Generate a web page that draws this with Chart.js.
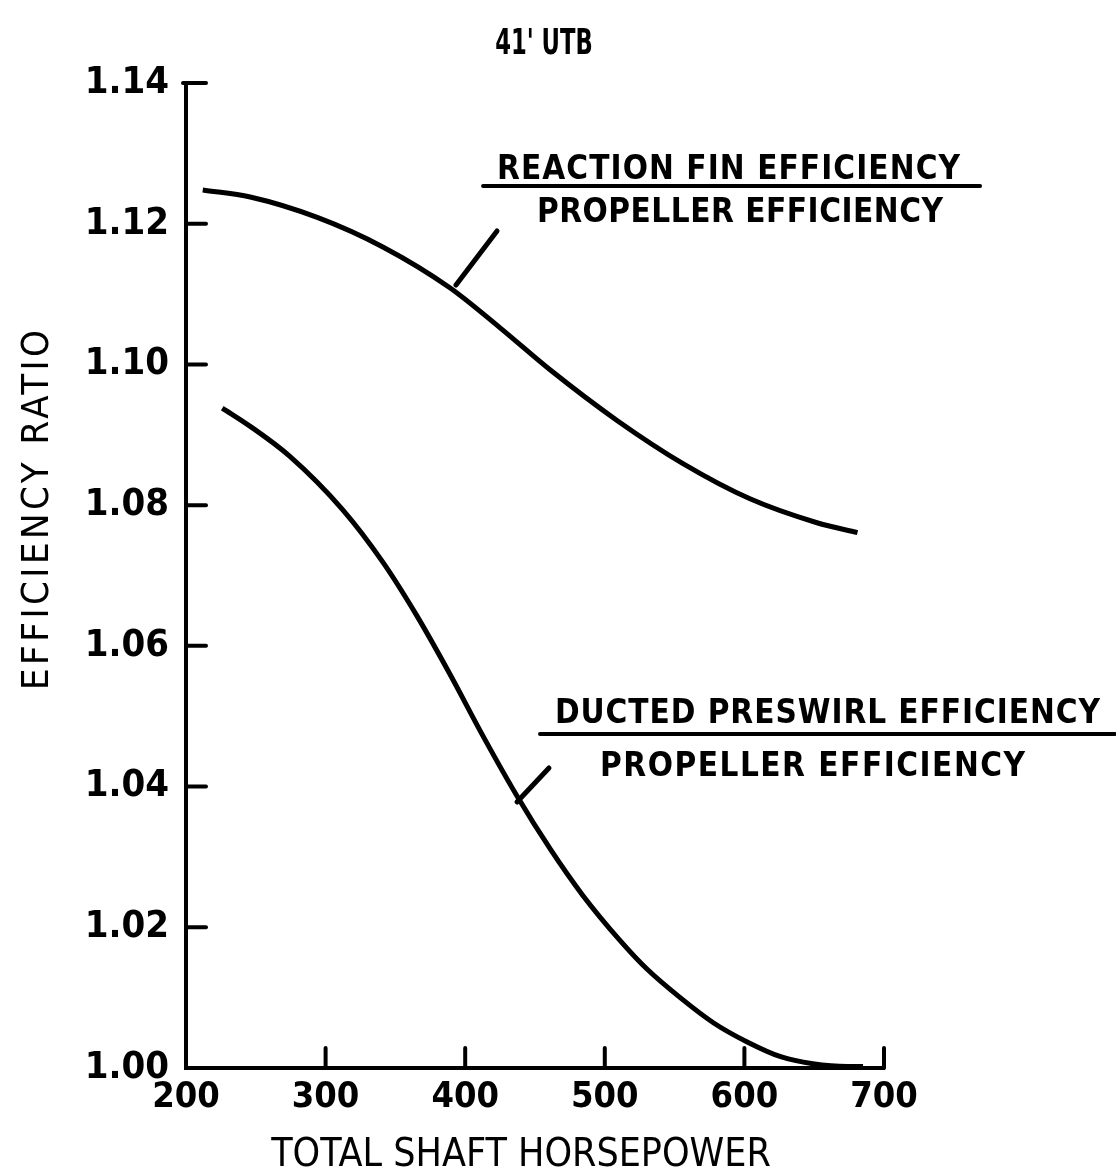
<!DOCTYPE html>
<html>
<head>
<meta charset="utf-8">
<title>41' UTB - Efficiency ratio vs total shaft horsepower</title>
<script src="https://cdn.jsdelivr.net/npm/chart.js@4.4.1/dist/chart.umd.min.js"></script>
<style>
  html, body { margin: 0; padding: 0; background: #fff; }
  #wrap { width: 1116px; height: 1172px; }
</style>
</head>
<body>
<div id="wrap"><canvas id="chart" width="1116" height="1172"></canvas></div>
<script>
// axis ticks
const xTicks = [200, 300, 400, 500, 600, 700];
const yTicks = [1.00, 1.02, 1.04, 1.06, 1.08, 1.10, 1.12, 1.14];

// reaction fin / propeller efficiency
const finHp    = [212, 246, 294, 341, 389, 425, 461, 509, 556, 604, 652, 681];
const finRatio = [1.1248, 1.1238, 1.1209, 1.1167, 1.1109, 1.1052, 1.0992, 1.0920, 1.0859, 1.0809, 1.0775, 1.0761];

// ducted preswirl / propeller efficiency
const ductHp    = [226, 246, 274, 312, 341, 365, 389, 413, 437, 461, 484, 511, 530, 554, 578, 602, 626, 649, 674, 685];
const ductRatio = [1.0938, 1.0912, 1.0870, 1.0794, 1.0719, 1.0644, 1.0560, 1.0471, 1.0387, 1.0311, 1.0246, 1.0181, 1.0141, 1.0100, 1.0064, 1.0037, 1.0016, 1.0006, 1.0002, 1.0002];

const INK = '#000';
const FONT = '"DejaVu Sans Condensed", "DejaVu Sans", sans-serif';

// curve labels, anchored in data units (hp, ratio)
const notes = [
    {
        top: 'REACTION FIN EFFICIENCY', topAt: [588.6, 1.12636], topWidth: 463,
        bottom: 'PROPELLER EFFICIENCY', bottomAt: [596.8, 1.12023], bottomWidth: 406,
        bar: [[412.8, 1.12536], [768.8, 1.12536]],
        leader: [[393.4, 1.11129], [422.8, 1.11897]]
    },
    {
        top: 'DUCTED PRESWIRL EFFICIENCY', topAt: [659.5, 1.04904], topWidth: 545,
        bottom: 'PROPELLER EFFICIENCY', bottomAt: [648.8, 1.04150], bottomWidth: 425,
        bar: [[453.6, 1.04747], [865.5, 1.04747]],
        leader: [[437.1, 1.03781], [460.0, 1.04264]]
    }
];

function toPoints(xs, ys) {
    return xs.map((x, i) => ({ x: x, y: ys[i] }));
}

// spread the letters so the text spans the given width
function fitText(ctx, text, cx, y, width) {
    ctx.letterSpacing = '0px';
    const w = ctx.measureText(text).width;
    const sp = (width - w) / (text.length - 1);
    ctx.letterSpacing = sp + 'px';
    ctx.textAlign = 'left';
    ctx.fillText(text, cx - width / 2, y);
    ctx.letterSpacing = '0px';
}

// squeeze the text horizontally (typewriter-like condensed look)
function squeezeText(ctx, text, cx, y, sx) {
    ctx.save();
    ctx.translate(cx, y);
    ctx.scale(sx, 1);
    ctx.textAlign = 'center';
    ctx.fillText(text, 0, 0);
    ctx.restore();
}

const decorPlugin = {
    id: 'decor',
    afterDraw(chart) {
        const ctx = chart.ctx;
        const xs = chart.scales.x;
        const ys = chart.scales.y;
        const area = chart.chartArea;
        ctx.save();
        ctx.strokeStyle = INK;
        ctx.fillStyle = INK;
        ctx.lineCap = 'round';

        // inward tick marks
        ctx.lineWidth = 4;
        xTicks.slice(1).forEach(v => {
            const px = xs.getPixelForValue(v);
            ctx.beginPath();
            ctx.moveTo(px, area.bottom);
            ctx.lineTo(px, area.bottom - 20);
            ctx.stroke();
        });
        yTicks.slice(1).forEach(v => {
            const py = ys.getPixelForValue(v);
            ctx.beginPath();
            ctx.moveTo(area.left - (v === 1.14 ? 3 : 0), py);
            ctx.lineTo(area.left + 20, py);
            ctx.stroke();
        });

        // curve labels
        ctx.font = 'bold 33px ' + FONT;
        ctx.textBaseline = 'alphabetic';
        notes.forEach(n => {
            fitText(ctx, n.top, xs.getPixelForValue(n.topAt[0]), ys.getPixelForValue(n.topAt[1]), n.topWidth);
            fitText(ctx, n.bottom, xs.getPixelForValue(n.bottomAt[0]), ys.getPixelForValue(n.bottomAt[1]), n.bottomWidth);
            ctx.lineWidth = 4;
            ctx.beginPath();
            ctx.moveTo(xs.getPixelForValue(n.bar[0][0]), ys.getPixelForValue(n.bar[0][1]));
            ctx.lineTo(xs.getPixelForValue(n.bar[1][0]), ys.getPixelForValue(n.bar[1][1]));
            ctx.stroke();
            ctx.lineWidth = 5;
            ctx.beginPath();
            ctx.moveTo(xs.getPixelForValue(n.leader[0][0]), ys.getPixelForValue(n.leader[0][1]));
            ctx.lineTo(xs.getPixelForValue(n.leader[1][0]), ys.getPixelForValue(n.leader[1][1]));
            ctx.stroke();
        });

        // chart title
        ctx.font = 'bold 36px ' + FONT;
        squeezeText(ctx, "41' UTB", 544, 54, 0.7);

        // x axis title
        ctx.font = '39px ' + FONT;
        ctx.textAlign = 'center';
        ctx.fillText('TOTAL SHAFT HORSEPOWER', 521, 1166);

        // y axis title
        ctx.font = '38px ' + FONT;
        ctx.translate(48, 510);
        ctx.rotate(-Math.PI / 2);
        fitText(ctx, 'EFFICIENCY RATIO', 0, 0, 360);
        ctx.restore();
    }
};

Chart.defaults.font.family = FONT;
Chart.defaults.color = INK;

new Chart(document.getElementById('chart'), {
    type: 'scatter',
    data: {
        datasets: [
            {
                label: 'Reaction fin efficiency / propeller efficiency',
                data: toPoints(finHp, finRatio),
                showLine: true,
                borderColor: INK,
                borderWidth: 5,
                pointRadius: 0,
                cubicInterpolationMode: 'monotone'
            },
            {
                label: 'Ducted preswirl efficiency / propeller efficiency',
                data: toPoints(ductHp, ductRatio),
                showLine: true,
                borderColor: INK,
                borderWidth: 5,
                pointRadius: 0,
                cubicInterpolationMode: 'monotone'
            }
        ]
    },
    options: {
        responsive: false,
        animation: false,
        devicePixelRatio: 1,
        layout: { padding: { left: 0, right: 232, top: 83, bottom: 0 } },
        plugins: {
            legend: { display: false },
            tooltip: { enabled: false },
            title: { display: false }
        },
        scales: {
            x: {
                type: 'linear',
                min: 200,
                max: 700,
                afterFit: s => { s.height = 104; },
                afterBuildTicks: s => { s.ticks = xTicks.map(v => ({ value: v })); },
                grid: { display: true, drawOnChartArea: false, drawTicks: false },
                border: { display: true, color: INK, width: 4 },
                ticks: {
                    padding: 8,
                    color: INK,
                    font: { size: 36, weight: 'bold' },
                    callback: v => String(v)
                }
            },
            y: {
                type: 'linear',
                min: 1.00,
                max: 1.14,
                afterFit: s => { s.width = 186; },
                afterBuildTicks: s => { s.ticks = yTicks.map(v => ({ value: v })); },
                grid: { display: true, drawOnChartArea: false, drawTicks: false },
                border: { display: true, color: INK, width: 4 },
                ticks: {
                    padding: 17,
                    color: INK,
                    font: { size: 38, weight: 'bold' },
                    callback: v => Number(v).toFixed(2)
                }
            }
        }
    },
    plugins: [decorPlugin]
});
</script>
</body>
</html>
